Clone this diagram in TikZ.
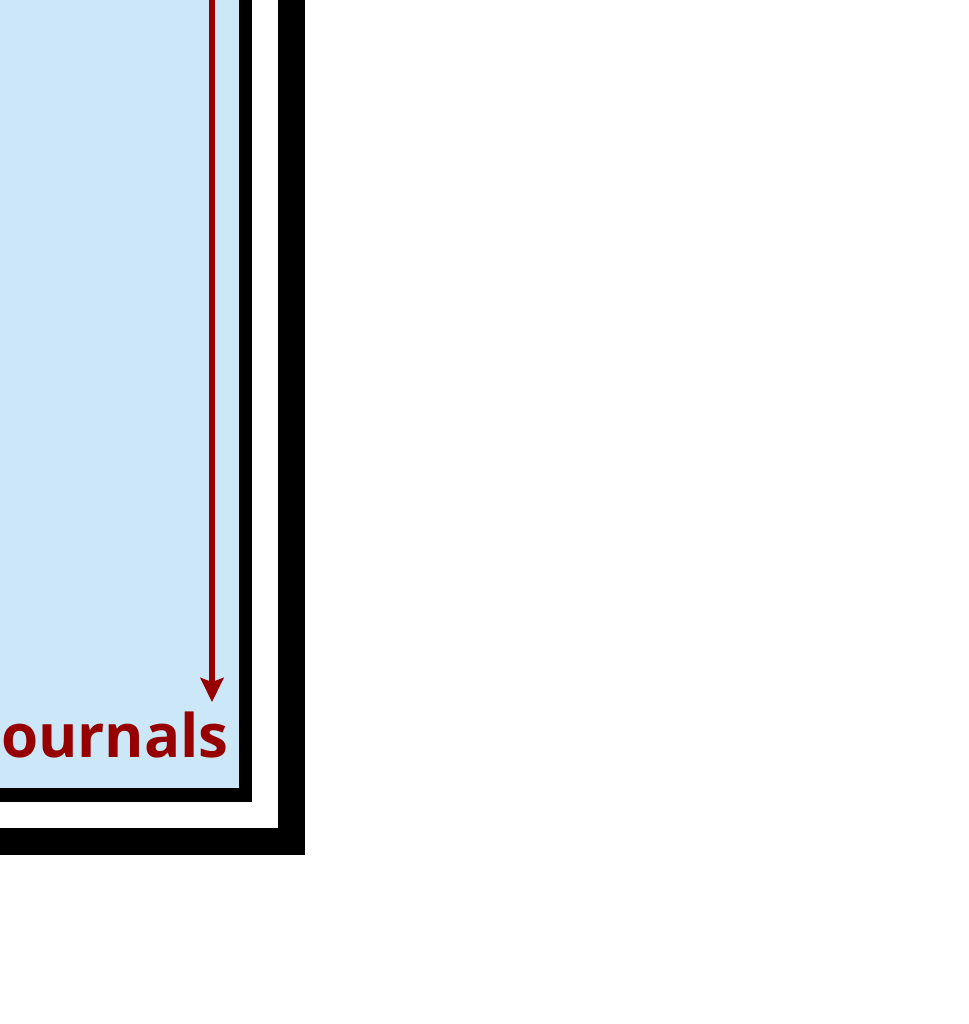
\documentclass[tikz,border=0pt]{standalone}
\usepackage{xcolor}
\usepackage{fontspec}
\setmainfont{Open Sans}
\usetikzlibrary{arrows.meta}
\definecolor{paleblue}{RGB}{204,232,248}
\definecolor{darkred}{RGB}{150,0,0}

\begin{document}
\begin{tikzpicture}[x=1pt,y=-1pt,>=Stealth]
\useasboundingbox (0,0) rectangle (968,1024);
\clip (0,0) rectangle (968,1024);
\fill[paleblue] (-50,-50) rectangle (245.5,795);
\draw[black,line width=13.5pt] (-50,-50) rectangle (245.5,795);
\draw[black,line width=27pt] (-50,-50) rectangle (291.5,841.5);
\node[font=\bfseries\fontsize{60}{72}\selectfont,text=darkred,anchor=base east,inner sep=0pt] (journals) at (229,757) {ournals};
\coordinate (feed) at (212,-10);
\draw[darkred,line width=5.5pt,arrows={-Stealth[length=24pt,width=23pt,inset=4pt]}] (feed) -- (feed |- 0,702);
\end{tikzpicture}
\end{document}
